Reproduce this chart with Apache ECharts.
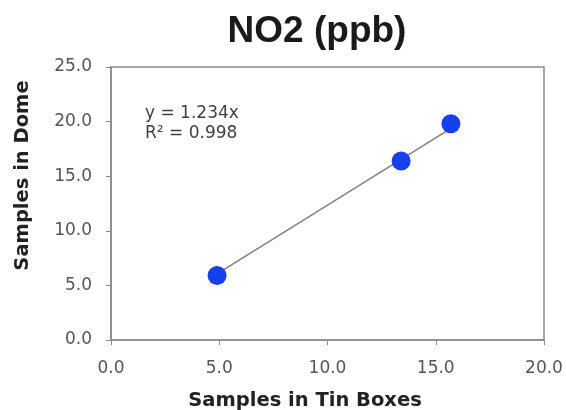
<!DOCTYPE html>
<html>
<head>
<meta charset="utf-8">
<script src="https://cdn.jsdelivr.net/npm/echarts@6/dist/echarts.min.js"></script>
<style>
  html, body { margin: 0; padding: 0; background: #fff; }
  #chart { width: 566px; height: 410px; }
</style>
</head>
<body>
<div id="chart"></div>
<script>
// NO2 readings: tin boxes (x) vs dome (y), ppb
const tinBoxes = [4.9, 13.4, 15.7];
const dome = [5.9, 16.4, 19.8];
// Fitted trend through the origin and its fit quality
const slope = 1.234;
const rSquared = 0.998;
// Axis ranges and tick step
const axisMin = 0;
const xMax = 20;
const yMax = 25;
const tickStep = 5;

const points = tinBoxes.map((x, i) => [x, dome[i]]);
const xLo = Math.min(...tinBoxes);
const xHi = Math.max(...tinBoxes);
const trend = [[xLo, slope * xLo], [xHi, slope * xHi]];

const axisGray = '#8a8a8a';
const smallFont = 'DejaVu Sans';

const chart = echarts.init(document.getElementById('chart'), null, { renderer: 'canvas' });
chart.setOption({
  animation: false,
  backgroundColor: '#ffffff',
  title: {
    text: 'NO2 (ppb)',
    left: 312,
    top: 8,
    textAlign: 'center',
    textStyle: { fontFamily: 'Arial, Helvetica, sans-serif', fontWeight: 'bold', fontSize: 37, color: '#1a1a1a' }
  },
  grid: {
    left: 111, right: 22, top: 67, bottom: 70,
    containLabel: false, outerBoundsMode: 'none',
    show: true, borderColor: axisGray, borderWidth: 1.5, backgroundColor: 'transparent'
  },
  xAxis: {
    type: 'value', min: axisMin, max: xMax, interval: tickStep,
    name: 'Samples in Tin Boxes', nameLocation: 'middle', nameGap: 51,
    nameTextStyle: { fontFamily: smallFont, fontWeight: 'bold', fontSize: 19.5, color: '#222', padding: [0, 45, 0, 0] },
    axisLine: { lineStyle: { color: axisGray, width: 1.5 } },
    axisTick: { show: true, length: 5, lineStyle: { color: axisGray } },
    splitLine: { show: false },
    axisLabel: { margin: 20, fontFamily: smallFont, fontSize: 17, color: '#555', formatter: v => v.toFixed(1) }
  },
  yAxis: {
    type: 'value', min: axisMin, max: yMax, interval: tickStep,
    name: 'Samples in Dome', nameLocation: 'middle', nameGap: 78, nameRotate: 90,
    nameTextStyle: { fontFamily: smallFont, fontWeight: 'bold', fontSize: 19.5, color: '#222', padding: [0, 0, 0, 56] },
    axisLine: { show: true, lineStyle: { color: axisGray, width: 1.5 } },
    axisTick: { show: true, length: 5, lineStyle: { color: axisGray } },
    splitLine: { show: false },
    axisLabel: { margin: 19, fontFamily: smallFont, fontSize: 17, color: '#555', formatter: v => v.toFixed(1) }
  },
  graphic: [{
    type: 'text', left: 145, top: 104,
    style: {
      text: 'y = ' + slope.toFixed(3) + 'x\nR² = ' + rSquared.toFixed(3),
      font: '17px "DejaVu Sans"', fill: '#404040', lineHeight: 20
    }
  }],
  series: [
    {
      type: 'line', data: trend, symbol: 'none', silent: true,
      lineStyle: { color: '#808080', width: 1.5 }, z: 2
    },
    {
      type: 'scatter', data: points, symbol: 'circle', symbolSize: 19,
      itemStyle: { color: '#1440ee', opacity: 1 }, z: 3
    }
  ]
});
</script>
</body>
</html>
